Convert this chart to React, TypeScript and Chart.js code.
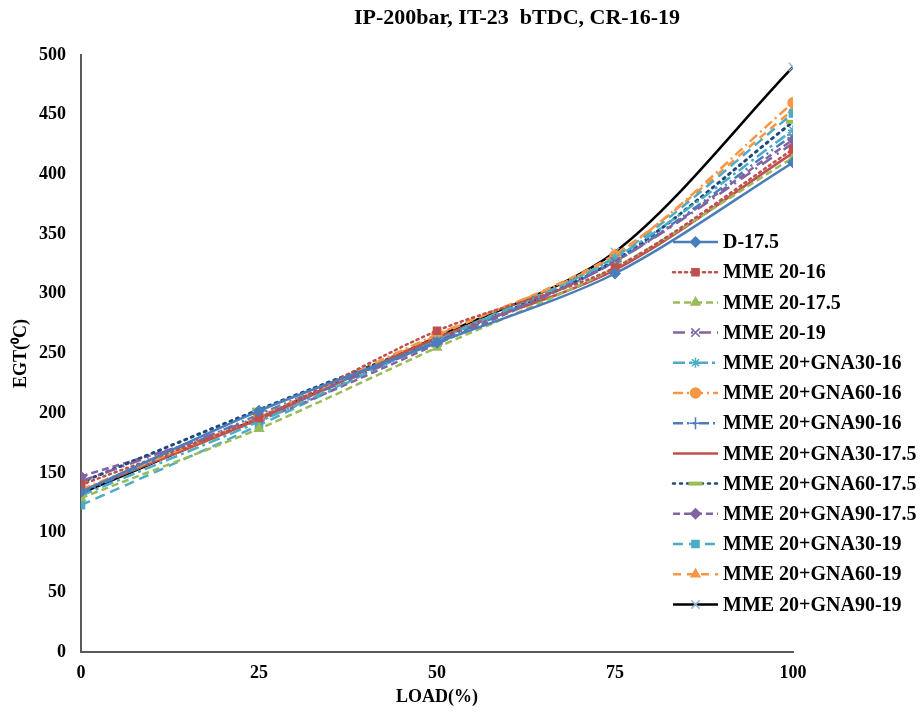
import React, { useEffect, useRef } from "react";
import { Chart, registerables } from "chart.js";
import { drawPoint } from "chart.js/helpers";

Chart.register(...registerables);

const loads = [0, 25, 50, 75, 100];
const xTicks = [0, 25, 50, 75, 100];

const d175 = [134, 202, 259, 317, 410];
const mme16 = [140, 196, 269, 322, 421];
const mme175 = [129, 187, 255, 322, 414];
const mme19 = [143, 197, 260, 327, 426];
const gna30_16 = [131, 193, 261, 330, 437];
const gna60_16 = [136, 197, 266, 332, 460];
const gna90_16 = [133, 199, 260, 327, 433];
const gna30_175 = [135, 195, 263, 320, 418];
const gna60_175 = [142, 203, 262, 328, 444];
const gna90_175 = [147, 194, 258, 327, 429];
const gna30_19 = [123, 190, 262, 331, 451];
const gna60_19 = [135, 195, 265, 333, 454];
const gna90_19 = [133, 196, 264, 335, 490];

const seriesNames = [
  "D-17.5",
  "MME 20-16",
  "MME 20-17.5",
  "MME 20-19",
  "MME 20+GNA30-16",
  "MME 20+GNA60-16",
  "MME 20+GNA90-16",
  "MME 20+GNA30-17.5",
  "MME 20+GNA60-17.5",
  "MME 20+GNA90-17.5",
  "MME 20+GNA30-19",
  "MME 20+GNA60-19",
  "MME 20+GNA90-19",
];
const seriesValues = [
  d175, mme16, mme175, mme19, gna30_16, gna60_16, gna90_16,
  gna30_175, gna60_175, gna90_175, gna30_19, gna60_19, gna90_19,
];

const styles = [
  { color: "#4A7EBB", mColor: "#4A7EBB", dash: [], point: "rectRot", r: 5, cap: "butt" },
  { color: "#C0504D", mColor: "#C0504D", dash: [2, 4], point: "rect", r: 5, cap: "round" },
  { color: "#9BBB59", mColor: "#9BBB59", dash: [7, 4], point: "triangle", r: 5, cap: "butt" },
  { color: "#8064A2", mColor: "#8064A2", dash: [12, 6, 2, 6], point: "crossRot", r: 6, cap: "butt" },
  { color: "#4BACC6", mColor: "#4BACC6", dash: [12, 4, 3, 4], point: "star", r: 5, cap: "butt" },
  { color: "#F79646", mColor: "#F79646", dash: [10, 4, 2, 4], point: "circle", r: 5, cap: "butt" },
  { color: "#4A7EBB", mColor: "#4A7EBB", dash: [10, 4, 2, 4, 2, 4], point: "cross", r: 6, cap: "butt" },
  { color: "#C0504D", mColor: "#C0504D", dash: [], point: false, r: 0, cap: "butt" },
  { color: "#1F497D", mColor: "#9BBB59", dash: [2, 5], point: "line", r: 7, cap: "round" },
  { color: "#8064A2", mColor: "#8064A2", dash: [7, 4], point: "rectRot", r: 5, cap: "butt" },
  { color: "#4BACC6", mColor: "#4BACC6", dash: [10, 6], point: "rect", r: 5, cap: "butt" },
  { color: "#F79646", mColor: "#F79646", dash: [8, 6], point: "triangle", r: 5, cap: "butt" },
  { color: "#000000", mColor: "#95B3D7", dash: [], point: "crossRot", r: 6, cap: "butt" },
];

const FONT = "'Liberation Serif', 'Times New Roman', serif";

const customPlugin = {
  id: "customDecor",
  afterDraw(chart: any) {
    const ctx = chart.ctx;
    ctx.save();
    // title
    ctx.fillStyle = "#000";
    ctx.font = `bold 22px ${FONT}`;
    ctx.textAlign = "center";
    ctx.textBaseline = "middle";
    ctx.fillText("IP-200bar, IT-23  bTDC, CR-16-19", 517, 18);

    // legend
    const x0 = 673;
    const x1 = 718;
    const y0 = 242;
    const step = 30.2;
    ctx.font = `bold 20px ${FONT}`;
    ctx.textAlign = "left";
    seriesNames.forEach((name, i) => {
      const st = styles[i];
      const y = y0 + i * step;
      ctx.save();
      ctx.strokeStyle = st.color;
      ctx.lineWidth = 2.5;
      ctx.lineCap = st.cap;
      ctx.setLineDash(st.dash);
      ctx.beginPath();
      ctx.moveTo(x0, y);
      ctx.lineTo(x1, y);
      ctx.stroke();
      ctx.restore();
      if (st.point) {
        ctx.save();
        ctx.setLineDash([]);
        ctx.fillStyle = st.mColor;
        ctx.strokeStyle = st.mColor;
        ctx.lineWidth = st.point === "line" ? 4 : 1.5;
        drawPoint(ctx, { pointStyle: st.point, radius: st.r, rotation: 0, borderWidth: ctx.lineWidth }, (x0 + x1) / 2, y);
        ctx.restore();
      }
      ctx.fillStyle = "#000";
      ctx.fillText(name, 723, y + 1);
    });
    ctx.restore();
  },
};

export default function App() {
  const ref = useRef<HTMLCanvasElement | null>(null);

  useEffect(() => {
    if (!ref.current) return;
    const datasets = seriesNames.map((name, i) => {
      const st = styles[i];
      return {
        label: name,
        data: loads.map((x, j) => ({ x, y: seriesValues[i][j] })),
        borderColor: st.color,
        backgroundColor: st.mColor,
        pointBackgroundColor: st.mColor,
        pointBorderColor: st.mColor,
        pointStyle: st.point,
        pointRadius: st.point ? st.r : 0,
        pointBorderWidth: st.point === "line" ? 4 : 1.5,
        borderWidth: st.point === "line" ? 3 : 2.5,
        borderDash: st.dash,
        borderCapStyle: st.cap,
        tension: 0.3,
        fill: false,
      };
    });
    const chart = new Chart(ref.current, {
      type: "line",
      data: { datasets },
      options: {
        animation: false,
        responsive: false,
        maintainAspectRatio: false,
        layout: { padding: { top: 55, right: 129, bottom: 0, left: 0 } },
        plugins: {
          legend: { display: false },
          title: { display: false },
          tooltip: { enabled: false },
        },
        scales: {
          x: {
            type: "linear",
            min: 0,
            max: 100,
            afterBuildTicks: (s: any) => {
              s.ticks = xTicks.map((v) => ({ value: v }));
            },
            afterFit: (s: any) => {
              s.height = 62;
            },
            grid: { display: false, drawTicks: false },
            border: { display: true, color: "#595959", width: 2 },
            ticks: {
              color: "#000",
              padding: 11,
              font: { family: FONT, size: 18, weight: "bold" },
            },
            title: {
              display: true,
              text: "LOAD(%)",
              color: "#000",
              padding: { top: 6, bottom: 6 },
              font: { family: FONT, size: 18, weight: "bold" },
            },
          },
          y: {
            type: "linear",
            min: 0,
            max: 500,
            ticks: {
              stepSize: 50,
              color: "#000",
              padding: 15,
              font: { family: FONT, size: 18, weight: "bold" },
            },
            afterFit: (s: any) => {
              s.width = 81;
            },
            grid: { display: false, drawTicks: false },
            border: { display: true, color: "#595959", width: 2 },
            title: {
              display: true,
              text: "EGT(⁰C)",
              color: "#000",
              padding: { top: 11, bottom: 4 },
              font: { family: FONT, size: 18, weight: "bold" },
            },
          },
        },
      },
      plugins: [customPlugin],
    });
    return () => chart.destroy();
  }, []);

  return (
    <div style={{ position: "fixed", left: 0, top: 0, width: 922, height: 714, background: "#fff" }}>
      <canvas ref={ref} width={922} height={714} style={{ width: 922, height: 714, display: "block" }} />
    </div>
  );
}
